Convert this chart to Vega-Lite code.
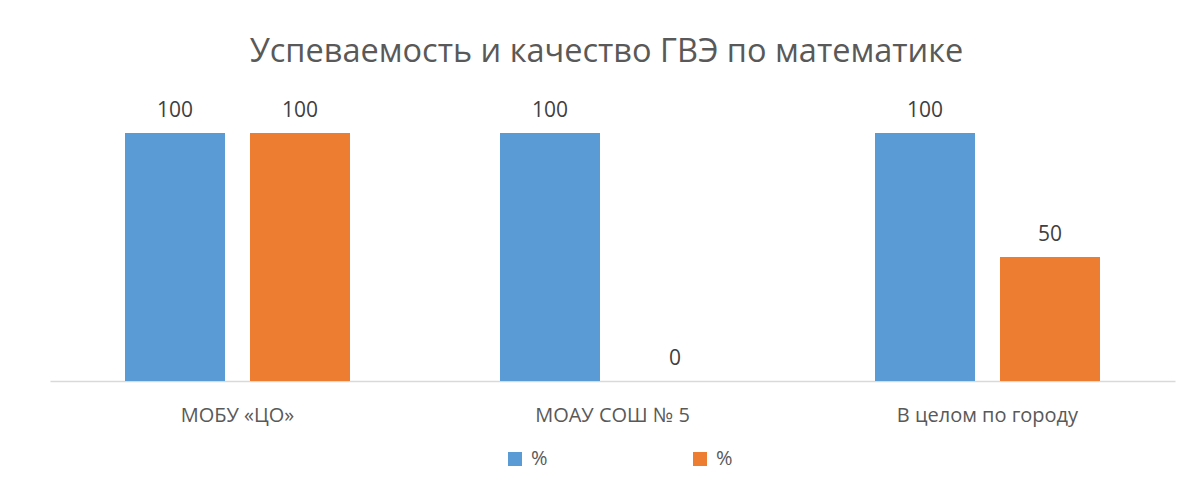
{
  "$schema": "https://vega.github.io/schema/vega-lite/v6.json",
  "autosize": "none",
  "width": 1125,
  "height": 248,
  "padding": {"left": 50, "top": 133, "right": 20, "bottom": 107},
  "background": "white",
  "title": {
    "text": "Успеваемость и качество ГВЭ по математике",
    "font": "Open Sans",
    "fontSize": 32.5,
    "fontWeight": "normal",
    "color": "#595959",
    "anchor": "middle",
    "frame": "group",
    "baseline": "alphabetic",
    "offset": 6,
    "dx": -6
  },
  "data": {
    "values": [
      {"school": "МОБУ «ЦО»", "series": "Успеваемость", "value": 100},
      {"school": "МОБУ «ЦО»", "series": "Качество", "value": 100},
      {"school": "МОАУ СОШ № 5", "series": "Успеваемость", "value": 100},
      {"school": "МОАУ СОШ № 5", "series": "Качество", "value": 0},
      {"school": "В целом по городу", "series": "Успеваемость", "value": 100},
      {"school": "В целом по городу", "series": "Качество", "value": 50}
    ]
  },
  "encoding": {
    "x": {
      "field": "school",
      "type": "nominal",
      "sort": null,
      "scale": {"paddingInner": 0.4, "paddingOuter": 0.2},
      "axis": {
        "title": null,
        "labelAngle": 0,
        "ticks": false,
        "tickSize": 0,
        "labelBaseline": "alphabetic",
        "labelPadding": 40,
        "labelLimit": 400,
        "labelFont": "Open Sans",
        "labelFontSize": 20,
        "labelColor": "#595959",
        "domainColor": "#D9D9D9",
        "domainWidth": 1.5
      }
    },
    "xOffset": {
      "field": "series",
      "type": "nominal",
      "sort": ["Успеваемость", "Качество"],
      "scale": {"paddingInner": 0.2, "paddingOuter": 0}
    },
    "y": {
      "field": "value",
      "type": "quantitative",
      "scale": {"domain": [0, 100], "nice": false},
      "axis": null
    }
  },
  "layer": [
    {
      "mark": {"type": "bar"},
      "encoding": {
        "color": {
          "field": "series",
          "type": "nominal",
          "scale": {"domain": ["Успеваемость", "Качество"], "range": ["#5B9BD5", "#ED7D31"]},
          "legend": {
            "title": null,
            "orient": "none",
            "direction": "horizontal",
            "legendX": 455,
            "legendY": 316,
            "labelExpr": "'%'",
            "symbolType": "square",
            "symbolSize": 196,
            "symbolStrokeWidth": 0,
            "labelFont": "Open Sans",
            "labelFontSize": 20,
            "labelColor": "#595959",
            "labelOffset": 6,
            "columnPadding": 142,
            "padding": 0
          }
        }
      }
    },
    {
      "mark": {
        "type": "text",
        "baseline": "alphabetic",
        "dy": -16,
        "font": "Open Sans",
        "fontSize": 21,
        "color": "#404040"
      },
      "encoding": {
        "text": {"field": "value", "type": "quantitative"}
      }
    }
  ],
  "config": {
    "view": {"stroke": null}
  }
}
